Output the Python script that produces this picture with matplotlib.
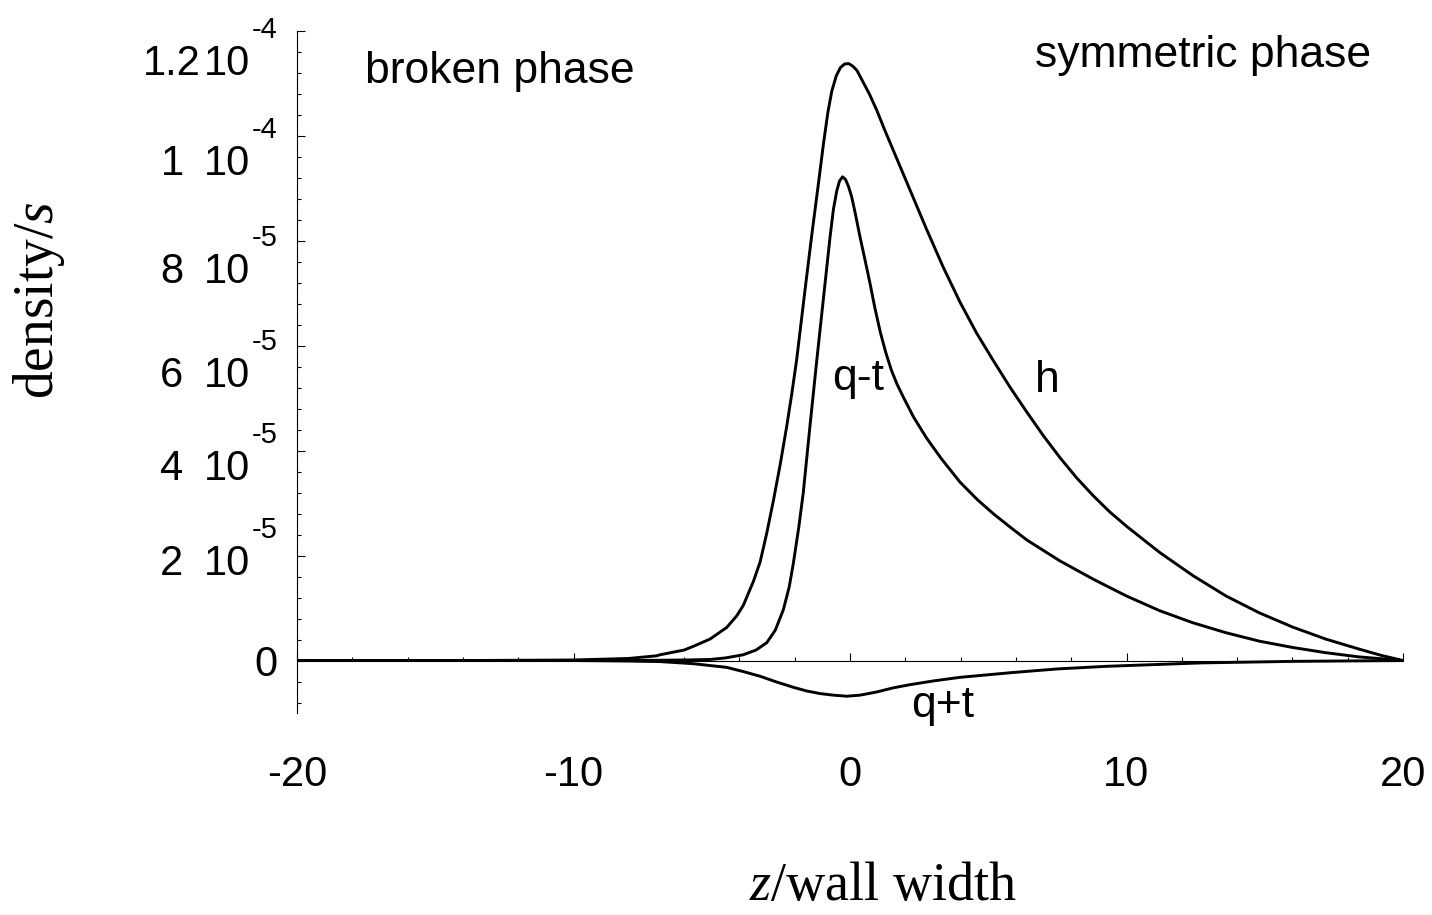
import numpy as np
import matplotlib
matplotlib.use("Agg")
import matplotlib.pyplot as plt
from matplotlib.transforms import blended_transform_factory, offset_copy

plt.rcParams['font.family'] = ['Liberation Sans', 'DejaVu Sans']
plt.rcParams['mathtext.fontset'] = 'custom'
plt.rcParams['mathtext.rm'] = 'Liberation Serif'
plt.rcParams['mathtext.it'] = 'Liberation Serif:italic'

# ---------------- data (x in wall widths, y in units of 1e-5) ----------------
h_x = [-20, -14, -10, -8, -7, -6.87, -6, -5.67, -5.06, -4.46, -4.1, -3.86, -3.5,
       -3.25, -3.01, -2.77, -2.53, -2.29, -2.11, -1.93, -1.63, -1.39, -1.14,
       -0.96, -0.8, -0.66, -0.5, -0.35, -0.2, -0.05, 0.1, 0.25, 0.45, 0.7, 0.96,
       1.25, 1.57, 2.17, 2.77, 3.37, 3.98, 4.58, 5.18, 5.8, 6.39, 7.0, 7.59,
       8.2, 8.8, 9.4, 10.0, 11.2, 12.4, 13.6, 14.8, 16.0, 17.2, 18.4, 19.2, 20]
h_y = [0, 0, 0.01, 0.04, 0.09, 0.11, 0.2, 0.27, 0.41, 0.63, 0.85, 1.05, 1.5,
       1.88, 2.43, 3.05, 3.72, 4.46, 5.07, 5.73, 7.05, 8.08, 9.1,
       9.85, 10.45, 10.85, 11.14, 11.3, 11.37, 11.38, 11.33, 11.25, 11.05, 10.8, 10.5,
       10.12, 9.72, 8.97, 8.22, 7.5, 6.83, 6.24, 5.72, 5.2, 4.74, 4.28, 3.87,
       3.48, 3.14, 2.83, 2.56, 2.06, 1.62, 1.23, 0.91, 0.64, 0.41, 0.22, 0.1, 0]

qmt_x = [-20, -8, -6, -5.06, -4.5, -3.86, -3.4, -3.01, -2.7, -2.41, -2.2, -2.05,
         -1.85, -1.69, -1.45, -1.2, -0.9, -0.72, -0.6, -0.48, -0.38, -0.27,
         -0.16, -0.05, 0.06, 0.2, 0.36, 0.55, 0.72, 0.9, 1.1, 1.3, 1.5, 1.7,
         1.93, 2.3, 2.77, 3.3, 3.98, 4.6, 5.18, 5.8, 6.39, 7.59, 8.8, 10.0, 11.2,
         12.4, 13.6, 14.8, 16.0, 17.2, 18.4, 20]
qmt_y = [0, 0, 0.01, 0.02, 0.05, 0.11, 0.2, 0.34, 0.58, 0.97, 1.4, 1.85,
         2.55, 3.2, 4.46, 5.73, 7.2, 8.08, 8.6, 8.95, 9.14, 9.22,
         9.17, 9.03, 8.84, 8.5, 8.08, 7.62, 7.2, 6.72, 6.25, 5.86, 5.53, 5.27,
         5.02, 4.64, 4.24, 3.85, 3.4, 3.07, 2.8, 2.54, 2.3, 1.9, 1.55, 1.23, 0.95,
         0.72, 0.53, 0.37, 0.25, 0.15, 0.07, 0]

qpt_x = [-20, -10, -8, -6.87, -5.67, -4.46, -3.86, -3.25, -2.65, -2.05, -1.57,
         -1.08, -0.6, -0.12, 0.36, 0.96, 1.57, 2.17, 3.0, 3.98, 5.85, 7.5, 9.28,
         12.7, 16.1, 20]
qpt_y = [0, 0, -0.01, -0.02, -0.06, -0.13, -0.21, -0.3, -0.41, -0.51, -0.58,
         -0.63, -0.66, -0.68, -0.66, -0.6, -0.52, -0.46, -0.39, -0.32, -0.23,
         -0.16, -0.11, -0.045, -0.015, 0]

x_ticks = [-20, -10, 0, 10, 20]
x_ticklabels = ['-20', '-10', '0', '10', '20']
y_ticks = [0, 2e-5, 4e-5, 6e-5, 8e-5, 1e-4, 1.2e-4]
y_mantissa = ['0', '2', '4', '6', '8', '1', '1.2']
y_exponent = ['', '-5', '-5', '-5', '-5', '-4', '-4']

scale = 1e-5

# ---------------- figure ----------------
W, H = 1432, 915
fig = plt.figure(figsize=(W / 100, H / 100), dpi=100)
ax = fig.add_axes([297 / W, (H - 713) / H, (1403 - 297) / W, (713 - 31) / H])
ax.set_xlim(-20, 20)
ax.set_ylim(-1e-5, 1.2e-4)

lw = 2.1
for xs, ys in [(h_x, h_y), (qmt_x, qmt_y), (qpt_x, qpt_y)]:
    ax.plot(xs, np.array(ys) * scale, color='black', lw=lw,
            solid_joinstyle='round', solid_capstyle='round')

for s in ['top', 'right']:
    ax.spines[s].set_visible(False)
ax.spines['bottom'].set_position(('data', 0))
ax.spines['bottom'].set_linewidth(0.8)
ax.spines['left'].set_linewidth(0.8)

ax.set_xticks(x_ticks)
ax.set_xticks(np.arange(-20, 21, 2), minor=True)
ax.set_xticklabels(x_ticklabels)
ax.tick_params(axis='x', which='major', direction='in', length=6, width=0.8,
               labelsize=30, pad=68)
ax.tick_params(axis='x', which='minor', direction='in', length=3, width=0.8)

ax.set_yticks(y_ticks)
ax.set_yticks(np.arange(-0.8e-5, 1.2e-4 + 1e-9, 0.4e-5), minor=True)
ax.set_yticklabels([''] * len(y_ticks))
ax.tick_params(axis='y', which='major', direction='in', length=6, width=0.8)
ax.tick_params(axis='y', which='minor', direction='in', length=3, width=0.8)

# y tick labels in "m 10^e" form
blend = blended_transform_factory(ax.transAxes, ax.transData)
label_drop = [0, 19, 29, 41, 42, 39, 44]
for v, m, e, d in zip(y_ticks, y_mantissa, y_exponent, label_drop):
    if e == '':
        ax.text(0, v, m, transform=offset_copy(blend, fig=fig, x=-19, y=0, units='dots'),
                ha='right', va='center_baseline', fontsize=30)
        continue
    ax.text(0, v, m, transform=offset_copy(blend, fig=fig, x=-125, y=-d, units='dots'),
            ha='center', va='baseline', fontsize=30)
    ax.text(0, v, '10', transform=offset_copy(blend, fig=fig, x=-47, y=-d, units='dots'),
            ha='right', va='baseline', fontsize=30)
    ax.text(0, v, e, transform=offset_copy(blend, fig=fig, x=-45, y=-d + 37, units='dots'),
            ha='left', va='baseline', fontsize=21)

# annotations
fs = 32
ax.text(-17.54, 11.01e-5, 'broken phase', fontsize=fs, ha='left', va='baseline')
ax.text(6.69, 11.31e-5, 'symmetric phase', fontsize=fs, ha='left', va='baseline')
ax.text(0.3, 5.16e-5, 'q-t', fontsize=fs, ha='center', va='baseline')
ax.text(7.12, 5.12e-5, 'h', fontsize=fs, ha='center', va='baseline')
ax.text(3.36, -1.07e-5, 'q+t', fontsize=fs, ha='center', va='baseline', clip_on=False)

# axis labels
ax.set_ylabel(r'density/$s$', fontsize=40, family='Liberation Serif',
              rotation=90, ha='center', va='center')
ax.yaxis.set_label_coords(-0.233, 0.606)
ax.set_xlabel(r'$z$/wall width', fontsize=39, family='Liberation Serif',
              ha='center', va='center')
ax.xaxis.set_label_coords(0.53, -0.255)

fig.savefig('out.png', dpi=100)
